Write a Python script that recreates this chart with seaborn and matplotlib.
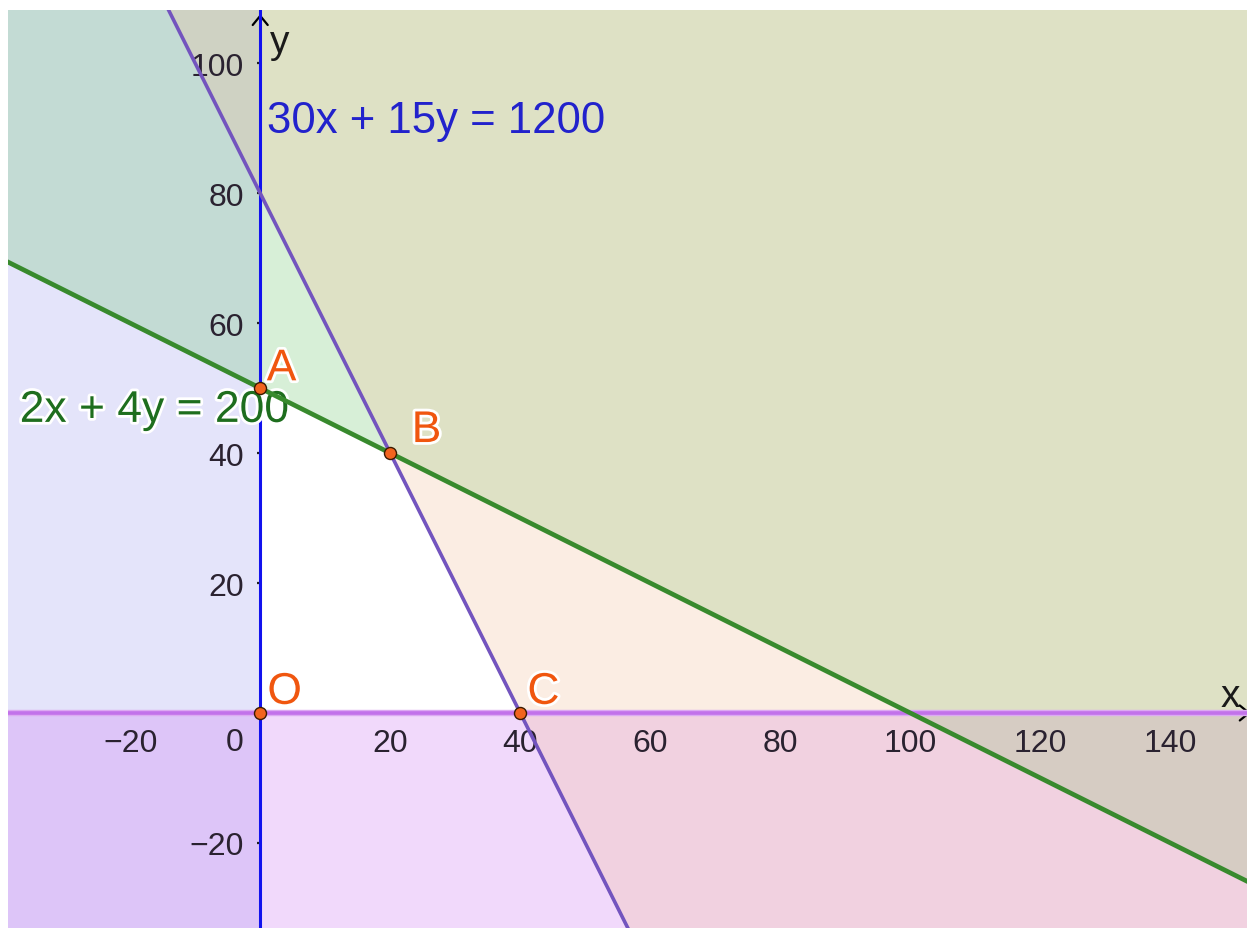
import numpy as np
import pandas as pd
import matplotlib
matplotlib.use("Agg")
import matplotlib.pyplot as plt
import matplotlib.patheffects as pe
import seaborn as sns

# ---------------- data ----------------
x_range = [-38.8, 151.8]
y_range = [-33.1, 108.2]
x_ticks = [-20, 20, 40, 60, 80, 100, 120, 140]
y_ticks = [-20, 20, 40, 60, 80, 100]

# constraint lines  a*x + b*y = c
c1_label = "30x + 15y = 1200"
c1_coef = [30, 15, 1200]
c2_label = "2x + 4y = 200"
c2_coef = [2, 4, 200]

point_names = ["O", "A", "B", "C"]
point_x = [0, 0, 20, 40]
point_y = [0, 50, 40, 0]

# ---------------- style ----------------
sns.set_theme(style="white")
plt.rcParams["font.family"] = ["Liberation Sans", "DejaVu Sans"]

fig = plt.figure(figsize=(12.47, 9.29), dpi=100)
ax = fig.add_axes([8 / 1247, 0, 1 - 8 / 1247, 1 - 11 / 929])
ax.set_xlim(*x_range)
ax.set_ylim(*y_range)

xmin, xmax = x_range
ymin, ymax = y_range
xs = np.linspace(xmin - 5, xmax + 5, 600)
y1 = (c1_coef[2] - c1_coef[0] * xs) / c1_coef[1]
y2 = (c2_coef[2] - c2_coef[0] * xs) / c2_coef[1]

A = 0.25
col_x = (150 / 255, 150 / 255, 238 / 255)   # x < 0
col_y = (203 / 255, 107 / 255, 243 / 255)   # y < 0
col_g = (99 / 255, 195 / 255, 99 / 255)     # 2x+4y > 200
col_p = (243 / 255, 187 / 255, 147 / 255)   # 30x+15y > 1200

ax.fill_betweenx([ymin - 5, ymax + 5], xmin - 5, 0, color=col_x, alpha=A, lw=0, zorder=1)
ax.fill_between([xmin - 5, xmax + 5], ymin - 5, 0, color=col_y, alpha=A, lw=0, zorder=1)
ax.fill_between(xs, y2, 1e4, color=col_g, alpha=A, lw=0, zorder=1)
ax.fill_between(xs, y1, 1e4, color=col_p, alpha=A, lw=0, zorder=1)

# ---------------- lines ----------------
df1 = pd.DataFrame({"x": xs, "y": y1})
df2 = pd.DataFrame({"x": xs, "y": y2})
sns.lineplot(data=df1, x="x", y="y", color="#7354be", lw=2.6, ax=ax, zorder=5,
             estimator=None, sort=False)
sns.lineplot(data=df2, x="x", y="y", color="#388a2d", lw=3.4, ax=ax, zorder=5,
             estimator=None, sort=False)
# y = 0 constraint
sns.lineplot(x=[xmin - 5, xmax + 5], y=[0, 0], color="#dcaaf2", lw=4.6, ax=ax,
             zorder=4, estimator=None, sort=False)
sns.lineplot(x=[xmin - 5, xmax + 5], y=[0, 0], color="#c272ea", lw=2.6, ax=ax,
             zorder=4, estimator=None, sort=False)
# x = 0 constraint
sns.lineplot(x=[0, 0], y=[ymin - 5, ymax + 5], color="#1212ee", lw=2.2, ax=ax,
             zorder=4.5, estimator=None, sort=False)

# ---------------- axes ----------------
ax.grid(False)
ax.set_axisbelow(False)
for s in ["top", "right"]:
    ax.spines[s].set_visible(False)
ax.spines["left"].set_position(("data", 0))
ax.spines["bottom"].set_position(("data", 0))
ax.spines["left"].set_color("none")
ax.spines["bottom"].set_color("none")
ax.set_xticks(x_ticks)
ax.set_yticks(y_ticks)
ax.set_xticklabels([f"{t:d}".replace("-", "\u2212") for t in x_ticks])
ax.set_yticklabels([f"{t:d}".replace("-", "\u2212") for t in y_ticks])
ax.tick_params(axis="both", length=2.5, width=1.6, color="#222222",
               labelsize=23, labelcolor="#2a2230", direction="out",
               bottom=True, left=True)
ax.tick_params(axis="x", pad=8)
ax.tick_params(axis="y", pad=9)
ax.set_xlabel("")
ax.set_ylabel("")
ax.text(-2.6, -2.2, "0", ha="right", va="top", fontsize=23, color="#2a2230", zorder=3)

# axis arrows and names
ax.annotate("", xy=(0, ymax - 0.2), xytext=(0, ymax - 3),
            arrowprops=dict(arrowstyle="->,head_length=0.55,head_width=0.45",
                            lw=1.6, color="black"), zorder=3, annotation_clip=False)
ax.annotate("", xy=(xmax + 1.0, 0), xytext=(xmax - 2, 0),
            arrowprops=dict(arrowstyle="->,head_length=0.55,head_width=0.45",
                            lw=1.6, color="black"), zorder=3, annotation_clip=False)
ax.text(1.5, 101.8, "y", fontsize=28, color="#1a1a1a", ha="left", va="baseline", zorder=6)
ax.text(147.7, 1.1, "x", fontsize=28, color="#1a1a1a", ha="left", va="baseline", zorder=6)

# equation labels
ax.text(1.0, 89.4, c1_label, fontsize=31.5, color="#2222cc", ha="left",
        va="baseline", zorder=6)
ax.text(-37.0, 44.8, c2_label, fontsize=32, color="#1e6e1e", ha="left",
        va="baseline", zorder=4.8,
        path_effects=[pe.withStroke(linewidth=4, foreground="white")])

# points
sns.scatterplot(x=point_x, y=point_y, s=75, color="#f2641e", edgecolor="#3a1a00",
                linewidth=1.0, ax=ax, zorder=7)
label_dx = [1.1, 1.0, 3.3, 1.1]
label_dy = [1.4, 1.2, 1.7, 1.4]
for n, px, py, dx, dy in zip(point_names, point_x, point_y, label_dx, label_dy):
    ax.text(px + dx, py + dy, n, fontsize=32, color="#f0560f", ha="left",
            va="baseline", zorder=8,
            path_effects=[pe.withStroke(linewidth=4, foreground="white")])

fig.savefig("out.png", dpi=100)
